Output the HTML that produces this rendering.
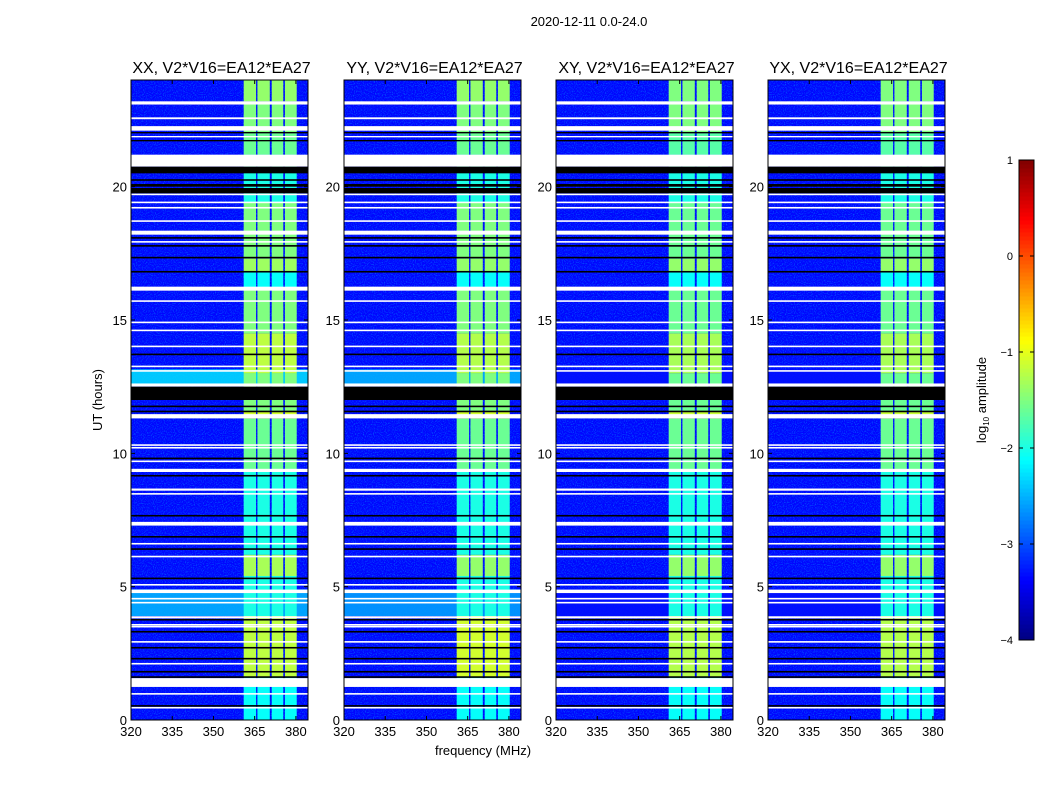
<!DOCTYPE html>
<html><head><meta charset="utf-8"><style>
body{margin:0;background:#fff;}
svg text{font-family:"Liberation Sans",sans-serif;fill:#000;}
</style></head><body>
<svg id="fig" width="1050" height="800" viewBox="0 0 1050 800" xmlns="http://www.w3.org/2000/svg">
<defs>
<filter id="speckle" x="0" y="0" width="100%" height="100%">
<feTurbulence type="fractalNoise" baseFrequency="0.9" numOctaves="1" seed="3" result="n"/>
<feColorMatrix in="n" type="matrix" values="0 0 0 0 0  0 0 0 0 0.35  0 0 0 0 1  0 0 0 1.6 -0.75" />
</filter>
</defs>
<rect width="1050" height="800" fill="#fff"/>
<text x="589" y="26" font-size="13" text-anchor="middle">2020-12-11 0.0-24.0</text>
<text x="102" y="400" font-size="13" text-anchor="middle" transform="rotate(-90 102 400)">UT (hours)</text>
<text x="483" y="755" font-size="13" text-anchor="middle">frequency (MHz)</text>
<g id="panels"></g>
<g id="cbar"></g>
</svg>
<script>
// ---- data ----
const panelTitles = ["XX, V2*V16=EA12*EA27","YY, V2*V16=EA12*EA27","XY, V2*V16=EA12*EA27","YX, V2*V16=EA12*EA27"];
const xTicks = [320,335,350,365,380];
const yTicks = [0,5,10,15,20];
const cbarTicks = [1,0,-1,-2,-3,-4];
const bandLo = [361,366,371.2,376];
const bandHi = [365.5,370.5,375.4,380.3];
const segStart = [0,1.6,3.9,5.4,6.2,7.4,9.3,11.3,11.6,12.6,13.0,14.5,16.2,16.8,17.3,19.4,21.2,22.0,23.2];
const segEnd   = [1.6,3.9,5.4,6.2,7.4,9.3,11.3,11.6,12.6,13.0,14.5,16.2,16.8,17.3,19.4,21.2,22.0,23.2,24];
const bandXX = [-2.1,-1.2,-2.0,-1.3,-2.0,-2.0,-1.6,-1.1,-1.5,-1.5,-1.2,-1.5,-2.1,-1.35,-1.5,-2.0,-1.6,-1.5,-1.4];
const bandYY = [-2.1,-1.1,-2.0,-1.4,-2.0,-2.0,-1.6,-1.1,-1.5,-1.5,-1.25,-1.5,-2.1,-1.4,-1.5,-2.0,-1.6,-1.5,-1.4];
const bandXY = [-2.1,-1.25,-2.0,-1.4,-2.0,-2.0,-1.6,-1.15,-1.6,-1.6,-1.3,-1.6,-2.1,-1.4,-1.6,-2.0,-1.7,-1.5,-1.5];
const bandYX = [-2.1,-1.25,-2.0,-1.4,-2.0,-2.0,-1.6,-1.15,-1.6,-1.6,-1.3,-1.6,-2.1,-1.4,-1.6,-2.0,-1.7,-1.5,-1.5];
const bgStart = [3.9,12.6];
const bgEnd = [4.9,13.15];
const bgXX = [-2.5,-2.3];
const bgYY = [-2.6,-2.5];
const bgXY = [-3.3,-3.3];
const bgYX = [-3.3,-3.3];
const baseLevel = -3.35;
const flagStart = [23.08,22.53,22.1,22.0,21.85,21.7,20.75,20.5,20.22,20.0,19.75,19.68,19.38,19.18,18.68,18.2,18.05,17.9,17.75,17.31,16.78,16.1,15.68,14.88,14.58,13.98,13.68,13.23,13.06,12.5,12.0,11.73,11.54,11.31,10.28,10.18,9.78,9.67,9.3,9.13,8.6,8.45,7.63,7.29,6.84,6.58,6.38,6.1,5.28,5.04,4.76,4.52,4.37,3.81,3.73,3.54,3.47,3.28,2.9,2.68,2.27,2.08,1.78,1.58,1.24,0.95,0.5,0.43];
const flagEnd   = [23.2,22.6,22.27,22.05,21.9,21.75,21.2,20.75,20.28,20.1,19.95,19.74,19.44,19.24,18.74,18.35,18.11,17.96,17.81,17.37,16.84,16.25,15.74,14.94,14.64,14.04,13.74,13.29,13.12,12.62,12.5,11.79,11.6,11.47,10.34,10.24,9.84,9.73,9.42,9.19,8.68,8.51,7.69,7.43,6.9,6.64,6.44,6.16,5.34,5.1,4.89,4.58,4.43,3.89,3.79,3.6,3.53,3.34,2.96,2.74,2.33,2.14,1.84,1.64,1.57,1.01,0.56,0.49];
const flagBlack = [0,0,0,1,0,1,0,1,1,1,1,0,0,0,0,0,1,0,1,1,1,0,0,0,0,0,1,0,0,0,1,1,1,0,0,0,1,0,0,1,0,0,1,0,1,0,1,0,1,0,0,0,0,0,1,0,0,1,0,1,1,0,1,1,0,0,1,0];
// ---- layout ----
const panelX0 = [131,344,556,768];
const pW = 177, pTop = 80, pBot = 720;
const fMin = 320, fMax = 384.4, hMin = 0, hMax = 24;
const bands = [bandXX,bandYY,bandXY,bandYX];
const bgs = [bgXX,bgYY,bgXY,bgYX];
function jet(v){
  let t=(v+4)/5; t=Math.max(0,Math.min(1,t));
  const c=x=>Math.max(0,Math.min(1,x));
  const r=c(1.5-Math.abs(4*t-3)), g=c(1.5-Math.abs(4*t-2)), b=c(1.5-Math.abs(4*t-1));
  return `rgb(${Math.round(r*255)},${Math.round(g*255)},${Math.round(b*255)})`;
}
const NS="http://www.w3.org/2000/svg";
function mk(tag,attrs,parent){const e=document.createElementNS(NS,tag);for(const k in attrs)e.setAttribute(k,attrs[k]);parent.appendChild(e);return e;}
const panels=document.getElementById('panels');
panelTitles.forEach((title,p)=>{
  const x0=panelX0[p];
  const xs=f=>x0+(f-fMin)/(fMax-fMin)*pW;
  const ys=h=>pBot-(h-hMin)/(hMax-hMin)*(pBot-pTop);
  const g=mk('g',{},panels);
  
  
  const bg=mk('rect',{x:x0,y:pTop,width:pW,height:pBot-pTop,fill:jet(baseLevel)},g);
  
  
  const sp=mk('rect',{x:x0,y:pTop,width:pW,height:pBot-pTop,fill:'#000',filter:'url(#speckle)'},g);
  
  
  bgStart.forEach((s,i)=>{
    const r=mk('rect',{x:x0,y:ys(bgEnd[i]),width:pW,height:ys(s)-ys(bgEnd[i]),fill:jet(bgs[p][i]),opacity:0.9},g);
    
    
  });
  segStart.forEach((s,i)=>{
    bandLo.forEach((lo,j)=>{
      const r=mk('rect',{x:xs(lo),y:ys(segEnd[i]),width:xs(bandHi[j])-xs(lo),height:ys(s)-ys(segEnd[i]),fill:jet(bands[p][i])},g);
      
      
    });
  });
  flagStart.forEach((s,i)=>{
    const r=mk('rect',{x:x0,y:ys(flagEnd[i]),width:pW,height:Math.max(1,ys(s)-ys(flagEnd[i])),fill:flagBlack[i]?'#000':'#fff'},g);
    
    
  });
  const fr=mk('rect',{x:x0,y:pTop,width:pW,height:pBot-pTop,fill:'none',stroke:'#000','stroke-width':1},g);
  
  
  const t=mk('text',{x:x0+pW/2+2,y:73,'font-size':16,'text-anchor':'middle'},g);t.textContent=title;
  
  
  xTicks.forEach(v=>{
    const x=xs(v);
    mk('line',{x1:x,x2:x,y1:pBot,y2:pBot-4,stroke:'#000'},g);
    mk('line',{x1:x,x2:x,y1:pTop,y2:pTop+4,stroke:'#000'},g);
    const l=mk('text',{x:x,y:pBot+16,'font-size':13,'text-anchor':'middle'},g);l.textContent=v;
    
    
  });
  yTicks.forEach(v=>{
    const y=ys(v);
    mk('line',{x1:x0,x2:x0+4,y1:y,y2:y,stroke:'#000'},g);
    mk('line',{x1:x0+pW,x2:x0+pW-4,y1:y,y2:y,stroke:'#000'},g);
    const l=mk('text',{x:x0-4,y:y+5,'font-size':13,'text-anchor':'end'},g);l.textContent=v;
    
    
  });
});
// colorbar
const cb=document.getElementById('cbar');


const cbX=1019,cbW=15,cbT=160,cbB=640,vMin=-4,vMax=1;
const cy=v=>cbB-(v-vMin)/(vMax-vMin)*(cbB-cbT);
for(let i=0;i<120;i++){
  const v0=vMin+i*(vMax-vMin)/120, v1=v0+(vMax-vMin)/120;
  const r=mk('rect',{x:cbX,y:cy(v1),width:cbW,height:cy(v0)-cy(v1)+0.5,fill:jet((v0+v1)/2)},cb);
  
  
}
mk('rect',{x:cbX,y:cbT,width:cbW,height:cbB-cbT,fill:'none',stroke:'#000'},cb);
cbarTicks.forEach(v=>{
  const y=cy(v);
  mk('line',{x1:cbX,x2:cbX+4,y1:y,y2:y,stroke:'#000'},cb);
  mk('line',{x1:cbX+cbW,x2:cbX+cbW-4,y1:y,y2:y,stroke:'#000'},cb);
  const l=mk('text',{x:1013,y:y+4,'font-size':11,'text-anchor':'end'},cb);l.textContent=(v<0?'\u2212'+(-v):v);
  
  
});
const cl=mk('text',{x:986,y:400,'font-size':13,'text-anchor':'middle',transform:'rotate(-90 986 400)'},cb);


cl.innerHTML='log<tspan font-size="8" dy="3">10</tspan><tspan dy="-3"> amplitude</tspan>';
</script>
</body></html>
